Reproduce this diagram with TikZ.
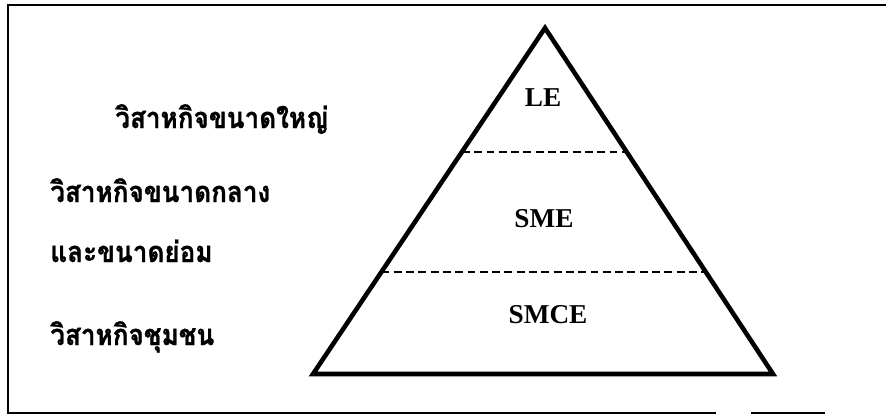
\documentclass[tikz,border=0pt]{standalone}
\usepackage{fontspec}
\setmainfont{Liberation Serif}
\newfontfamily\thaifont[Script=Thai, FakeStretch=0.9, FakeBold=1]{Loma}
\usetikzlibrary{calc}

\tikzset{
  thailabel/.style={font=\thaifont\bfseries\fontsize{16.5}{19}\selectfont, anchor=base west, inner sep=0pt},
  tierlabel/.style={font=\bfseries\fontsize{15.5}{18}\selectfont, anchor=base, inner sep=0pt},
  tierline/.style={dashed, dash pattern=on 4.5pt off 2.5pt, line width=1.1pt},
}

\begin{document}
\begin{tikzpicture}[x=0.02cm, y=-0.02cm]
\useasboundingbox (0,0) rectangle (886,416);
% Frame
\draw[line width=1.5pt] (886,5) -- (8,5) -- (8,413) -- (716,413);
\draw[line width=1.5pt] (751,413) -- (825,413);

% Pyramid
\coordinate (apex) at (545,28);
\coordinate (bl) at (313,374);
\coordinate (br) at (773,374);
\draw[line width=2.6pt] (apex) -- (bl) -- (br) -- cycle;

% Tier borders
\coordinate (lo1) at ($(apex)!0.358!(bl)$);
\coordinate (ro1) at ($(apex)!0.358!(br)$);
\coordinate (lo2) at ($(apex)!0.705!(bl)$);
\coordinate (ro2) at ($(apex)!0.705!(br)$);
\draw[tierline] (lo1) -- (ro1);
\draw[tierline] (lo2) -- (ro2);

% Tier names
\node[tierlabel] (le) at (543,106) {LE};
\node[tierlabel] (sme) at (544,227) {SME};
\node[tierlabel] (smce) at (548,323) {SMCE};

% Thai names
\node[thailabel] (large) at (115,128) {วิสาหกิจขนาดใหญ่};
\node[thailabel] (medium) at (50,202) {วิสาหกิจขนาดกลาง};
\node[thailabel] (small) at (50,262) {และขนาดย่อม};
\node[thailabel] (community) at (50,345) {วิสาหกิจชุมชน};
\end{tikzpicture}
\end{document}
